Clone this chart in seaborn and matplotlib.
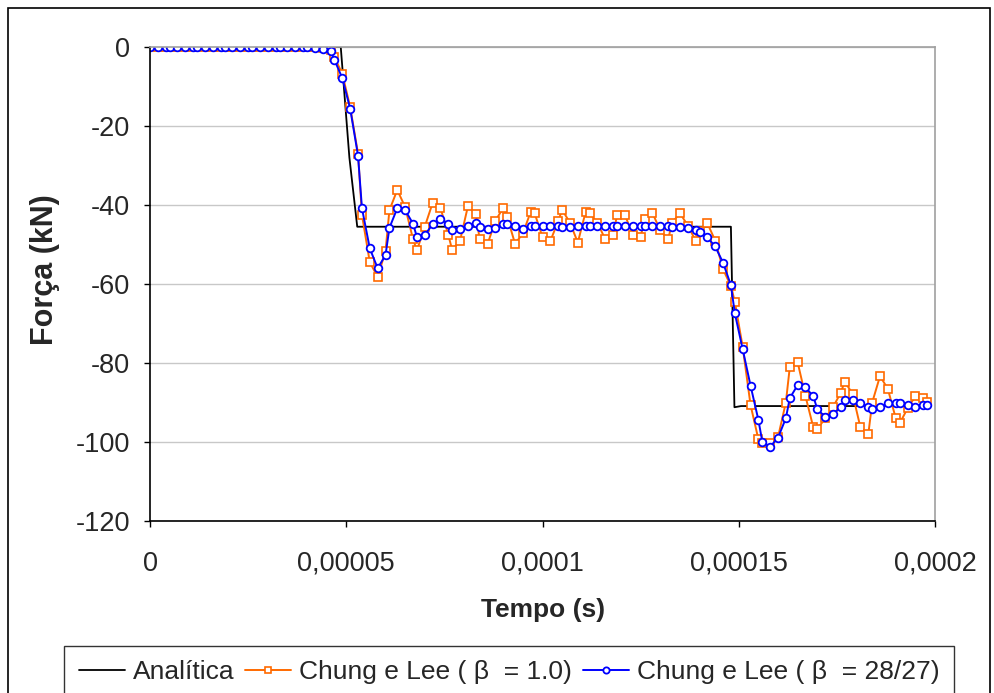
import matplotlib
matplotlib.use("Agg")
import matplotlib.pyplot as plt
from matplotlib.patches import Rectangle
import numpy as np
import pandas as pd
import seaborn as sns

# ---- data (time in microseconds, force in kN) ----
tempo_us = [0, 2, 4, 5, 7, 9, 11, 12, 14, 16, 18, 19, 21, 23, 25, 26,
            28, 30, 32, 33, 35, 37, 39, 40, 42, 44, 46, 47, 49, 51, 53, 54,
            56, 58, 60, 61, 63, 65, 67, 68, 70, 72, 74, 76, 77,
            79, 81, 83, 84, 86, 88, 90, 91, 93, 95, 97, 98,
            100, 102, 104, 105, 107, 109, 111, 112, 114, 116, 118, 119,
            121, 123, 125, 126, 128, 130, 132, 133, 135, 137, 139, 140,
            142, 144, 146, 148, 149,
            151, 153, 155, 156, 158, 160, 162, 163, 165, 167, 169, 170,
            172, 174, 176, 177, 179, 181, 183, 184, 186, 188, 190, 191,
            193, 195, 197, 198]

forca_beta_1 = [0, 0, 0, 0, 0, 0, 0, 0, 0, 0, 0, 0, 0, 0, 0, 0,
                0, 0, 0, 0, 0, 0, 0, 0, 0, -0.3, -0.8, -2.6, -6.8, -15.2, -27.0, -42.5,
                -54.5, -58.2, -51.7, -41.3, -36.2, -40.5, -48.6, -51.5, -45.5, -39.5, -40.7, -47.6, -51.4,
                -49.0, -40.3, -42.2, -48.7, -49.9, -44.0, -40.7, -43.0, -49.8, -47.2, -41.7, -42.1,
                -48.1, -49.1, -44.1, -41.2, -44.5, -49.5, -41.7, -42.1, -44.5, -48.7, -47.6, -42.5,
                -42.5, -47.6, -48.2, -43.5, -42.0, -46.4, -48.7, -44.6, -42.0, -45.2, -49.0, -46.5,
                -44.6, -49.0, -56.3, -60.5, -64.5,
                -75.9, -90.6, -99.3, -100.3, -100.2, -98.8, -90.0, -81.1, -79.8, -88.4, -96.3, -96.8,
                -94.0, -91.2, -87.5, -84.7, -87.8, -96.3, -98.1, -90.0, -83.3, -86.6, -94.0, -95.3,
                -91.5, -88.4, -88.9, -89.8]

forca_beta_28_27 = [0, 0, 0, 0, 0, 0, 0, 0, 0, 0, 0, 0, 0, 0, 0, 0,
                    0, 0, 0, 0, 0, 0, 0, -0.1, -0.2, -0.5, -1.0, -3.3, -7.9, -15.6, -27.5, -40.8,
                    -51.0, -56.0, -52.7, -45.8, -40.8, -41.3, -44.7, -48.1, -47.6, -44.9, -43.5, -44.7, -46.3,
                    -46.2, -45.4, -44.5, -45.5, -46.0, -45.9, -44.9, -44.9, -45.3, -46.0, -45.4, -45.4,
                    -45.4, -45.4, -45.4, -45.5, -45.5, -45.4, -45.4, -45.4, -45.4, -45.4, -45.4, -45.4,
                    -45.4, -45.4, -45.4, -45.4, -45.4, -45.4, -45.4, -45.5, -45.5, -45.9, -46.3, -46.9,
                    -48.2, -50.5, -54.6, -60.3, -67.4,
                    -76.5, -85.7, -94.4, -99.9, -101.2, -98.9, -94.0, -88.9, -85.6, -86.2, -88.4, -91.7,
                    -93.6, -92.9, -91.2, -89.4, -89.4, -90.2, -91.2, -91.6, -91.2, -90.2, -90.2, -90.2,
                    -90.7, -91.2, -90.6, -90.6]

analitica_t_us = [0, 48.6, 50.8, 52.8, 148.0, 148.9, 150.6, 198.0]
analitica_f = [0, 0, -28.0, -45.5, -45.5, -91.2, -90.9, -90.9]

x_ticks = [0, 0.00005, 0.0001, 0.00015, 0.0002]
x_tick_labels = ["0", "0,00005", "0,0001", "0,00015", "0,0002"]
y_ticks = [0, -20, -40, -60, -80, -100, -120]

labels = ["Analítica", "Chung e Lee ( β  = 1.0)", "Chung e Lee ( β  = 28/27)"]

# ---- build frames ----
df_ana = pd.DataFrame({"t": np.array(analitica_t_us) * 1e-6, "F": analitica_f})
df_b1 = pd.DataFrame({"t": np.array(tempo_us) * 1e-6, "F": forca_beta_1})
df_b2 = pd.DataFrame({"t": np.array(tempo_us) * 1e-6, "F": forca_beta_28_27})

sns.set_style("white")
plt.rcParams["font.family"] = ["Liberation Sans", "DejaVu Sans"]

fig = plt.figure(figsize=(9.94, 6.93), dpi=100)
ax = fig.add_axes([150 / 994, 1 - 521 / 693, 785 / 994, 474 / 693])

sns.lineplot(data=df_ana, x="t", y="F", ax=ax, color="black", lw=1.3,
             estimator=None, sort=False, label=labels[0])
sns.lineplot(data=df_b1, x="t", y="F", ax=ax, color="#FF6A00", lw=1.4,
             marker="s", markersize=5.5, markerfacecolor="white",
             markeredgecolor="#FF6A00", markeredgewidth=1.2,
             estimator=None, sort=False, label=labels[1])
sns.lineplot(data=df_b2, x="t", y="F", ax=ax, color="#0000FF", lw=1.4,
             marker="o", markersize=5.5, markerfacecolor="white",
             markeredgecolor="#0000FF", markeredgewidth=1.3,
             estimator=None, sort=False, label=labels[2])

ax.set_xlim(0, 0.0002)
ax.set_ylim(-120, 0)
ax.set_xticks(x_ticks)
ax.set_xticklabels(x_tick_labels)
ax.set_yticks(y_ticks)
ax.set_yticklabels([str(v) for v in y_ticks])
ax.tick_params(axis="both", labelsize=19.5, length=4.5, width=1, color="black",
               direction="out", bottom=True, left=True)
ax.tick_params(axis="x", pad=17)
ax.tick_params(axis="y", pad=10)

ax.grid(axis="y", color="#c8c8c8", lw=1)
ax.grid(axis="x", visible=False)
for side in ["top", "right"]:
    ax.spines[side].set_color("#a0a0a0")
    ax.spines[side].set_linewidth(1.2)
for side in ["left", "bottom"]:
    ax.spines[side].set_color("black")
    ax.spines[side].set_linewidth(1.2)

ax.set_xlabel("")
ax.set_ylabel("")
fig.text(543 / 994, 1 - 610 / 693, "Tempo (s)", ha="center", va="center",
         fontsize=19, fontweight="bold")
fig.text(45 / 994, 1 - 270 / 693, "Força (kN)", ha="center", va="center",
         fontsize=22, fontweight="bold", rotation=90)

leg = ax.legend(loc="lower center", bbox_to_anchor=(509 / 994, -0.008),
                bbox_transform=fig.transFigure, ncol=3, fontsize=19,
                frameon=True, fancybox=False, edgecolor="black",
                handlelength=1.75, handletextpad=0.3, columnspacing=0.4,
                borderpad=0.55, borderaxespad=0)
leg.get_frame().set_linewidth(1.0)
for h in leg.legend_handles:
    h.set_markersize(4.5)

fig.patches.append(Rectangle((8 / 994, -0.02), 982 / 994, 1.0 - 8 / 693 + 0.02,
                             transform=fig.transFigure, fill=False,
                             edgecolor="black", lw=1.2))

fig.savefig("out.png", dpi=100)
